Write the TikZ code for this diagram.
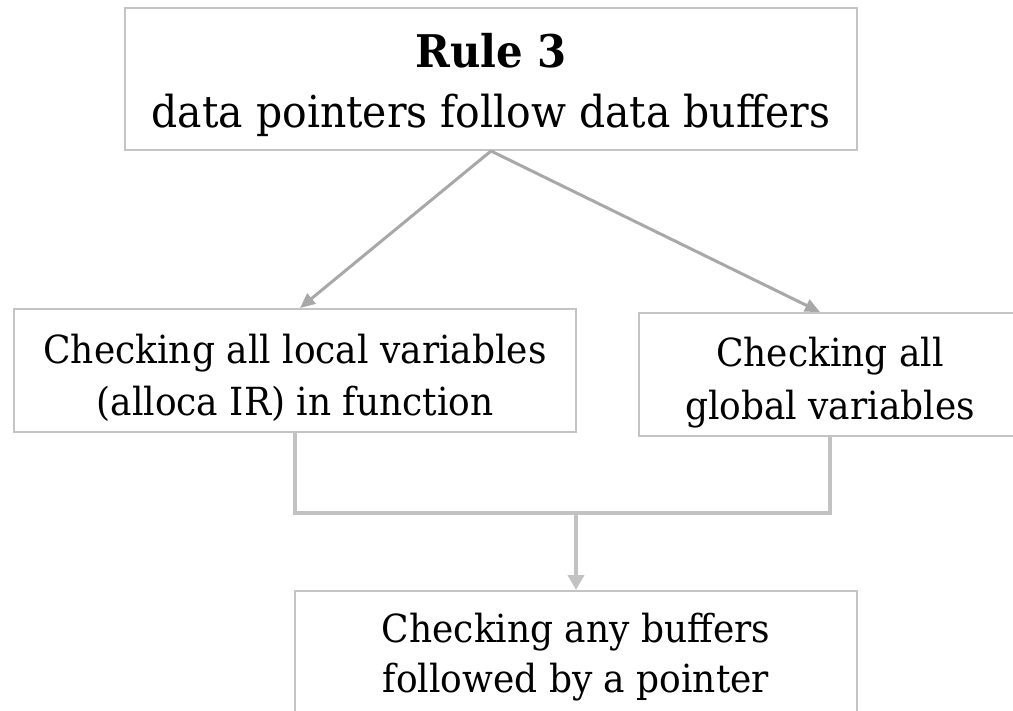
\documentclass[tikz,border=0pt]{standalone}
\usepackage{fontspec}
\setmainfont{DejaVu Serif}[FakeStretch=0.93]
\usetikzlibrary{arrows.meta}
\definecolor{boxline}{HTML}{C4C4C4}
\definecolor{linkline}{HTML}{C2C2C2}
\definecolor{fanline}{HTML}{A8A8A8}
\tikzset{
  stepbox/.style={draw=boxline, line width=2pt, fill=white, rectangle, inner sep=0pt},
  bodytext/.style={anchor=base, inner sep=0pt, font=\fontsize{38.7}{46}\selectfont},
  fanarrow/.style={draw=fanline, line width=3pt, -{Triangle[length=15pt,width=13pt]}},
  joinline/.style={draw=linkline, line width=3.5pt},
  downarrow/.style={draw=linkline, line width=3.5pt, -{Triangle[length=15pt,width=16pt]}}
}
\begin{document}
\begin{tikzpicture}[x=1pt, y=-1pt]
\useasboundingbox (0,0) rectangle (1013,711);

% boxes
\node[stepbox, minimum width=732pt, minimum height=142pt] (top) at (491,79) {};
\node[stepbox, minimum width=562pt, minimum height=123pt] (lb) at (295,370.5) {};
\node[stepbox, minimum width=382pt, minimum height=123pt] (rb) at (830,374.5) {};
\node[stepbox, minimum width=562pt, minimum height=150pt] (bt) at (576,666) {};

% texts
\node[bodytext, font=\fontsize{45}{52}\selectfont\bfseries] (t1) at (491,68) {Rule 3};
\node[bodytext, font=\fontsize{44}{51}\selectfont] (t2) at (491,128) {data pointers follow data buffers};
\node[bodytext] (l1) at (295,364) {Checking all local variables};
\node[bodytext] (l2) at (295,416) {(alloca IR) in function};
\node[bodytext] (r1) at (830,367) {Checking all};
\node[bodytext] (r2) at (830,420) {global variables};
\node[bodytext] (b1) at (576,642) {Checking any buffers};
\node[bodytext] (b2) at (576,692) {followed by a pointer};

% connectors
\coordinate (join) at (576,513);
\draw[fanarrow] (top.south) -- ([xshift=5pt]lb.north);
\draw[fanarrow] (top.south) -- ([xshift=-10pt]rb.north);
\draw[joinline] (lb.south) |- (join);
\draw[joinline] (rb.south) |- (join);
\draw[downarrow] (join) -- (bt.north);
\end{tikzpicture}
\end{document}
